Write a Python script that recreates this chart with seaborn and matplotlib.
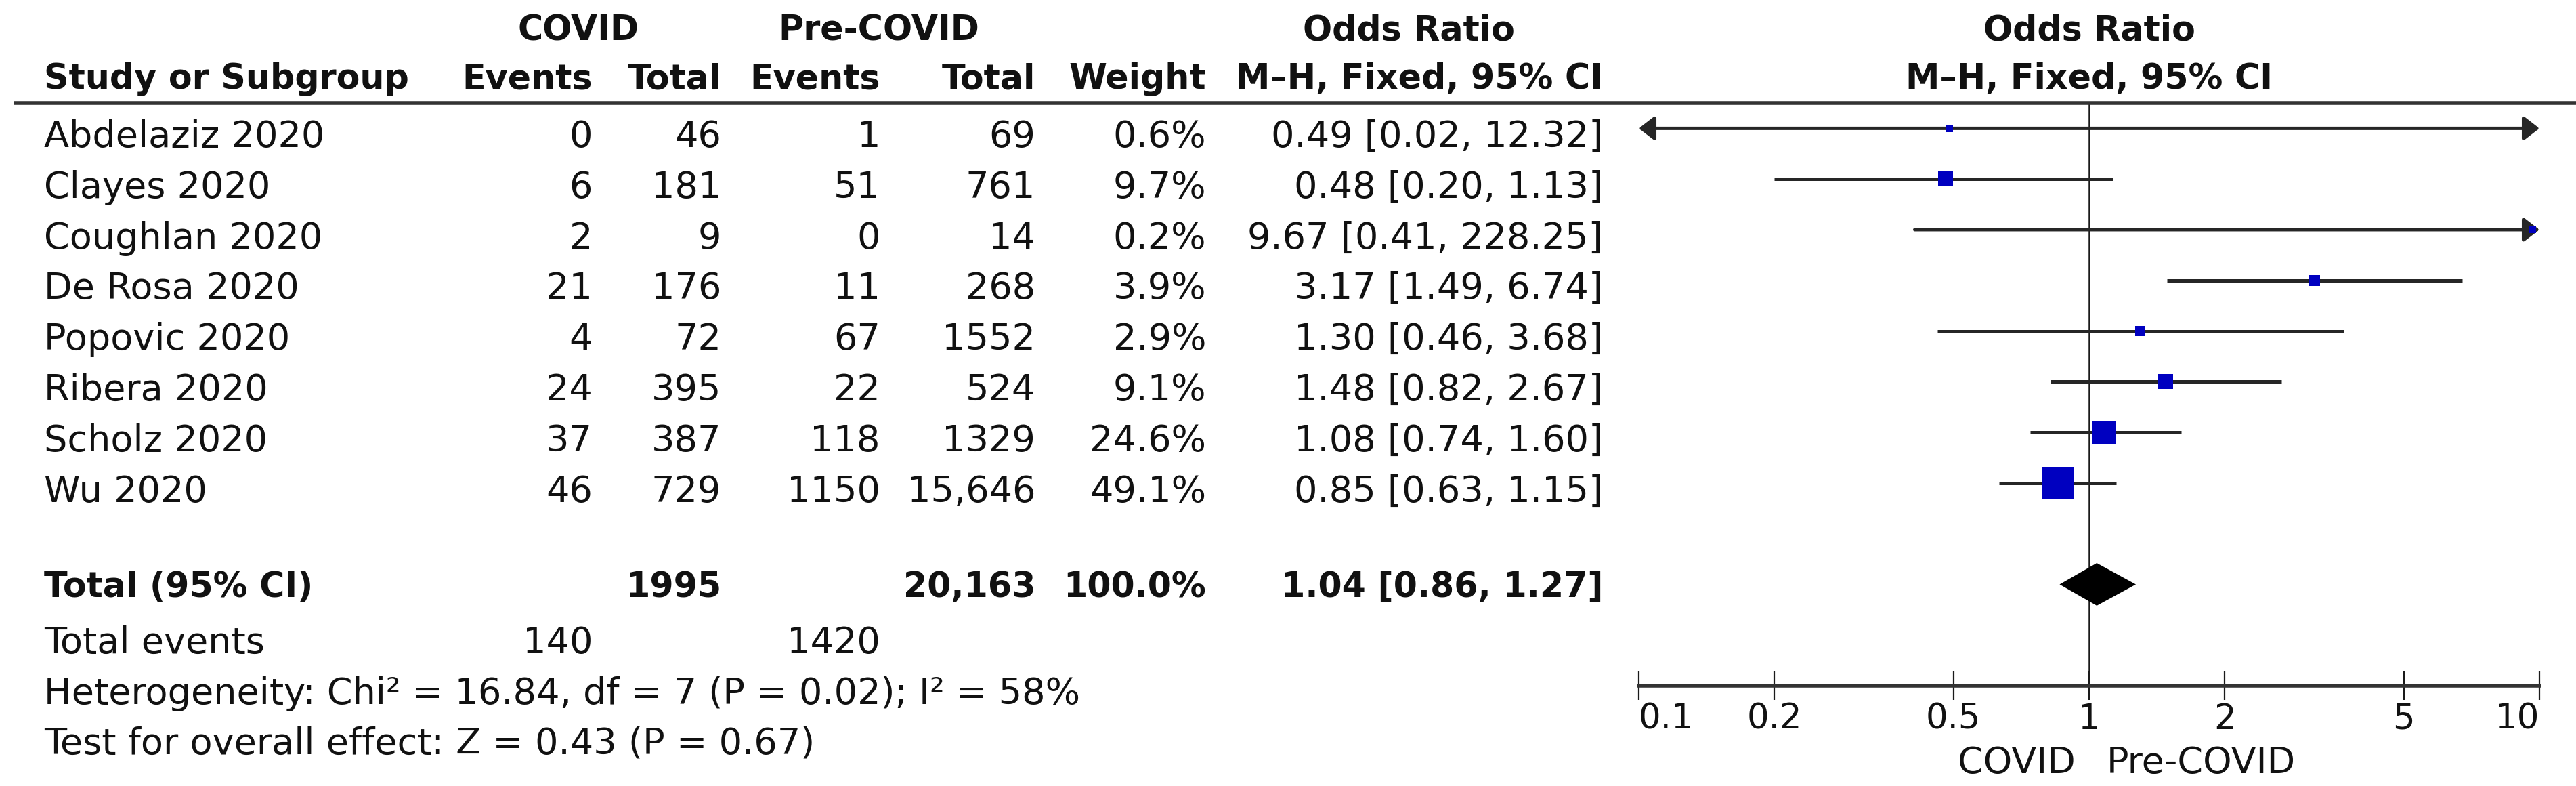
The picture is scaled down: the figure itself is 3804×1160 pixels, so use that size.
import numpy as np
import pandas as pd
import matplotlib
matplotlib.use('Agg')
import matplotlib.pyplot as plt
import matplotlib.transforms as mtransforms
import seaborn as sns

# data
studies = ['Abdelaziz 2020', 'Clayes 2020', 'Coughlan 2020', 'De Rosa 2020',
           'Popovic 2020', 'Ribera 2020', 'Scholz 2020', 'Wu 2020']
covid_events = ['0', '6', '2', '21', '4', '24', '37', '46']
covid_total = ['46', '181', '9', '176', '72', '395', '387', '729']
pre_events = ['1', '51', '0', '11', '67', '22', '118', '1150']
pre_total = ['69', '761', '14', '268', '1552', '524', '1329', '15,646']
weight = [0.6, 9.7, 0.2, 3.9, 2.9, 9.1, 24.6, 49.1]
odds = [0.49, 0.48, 9.67, 3.17, 1.30, 1.48, 1.08, 0.85]
ci_low = [0.02, 0.20, 0.41, 1.49, 0.46, 0.82, 0.74, 0.63]
ci_high = [12.32, 1.13, 228.25, 6.74, 3.68, 2.67, 1.60, 1.15]

total_label = 'Total (95% CI)'
total_covid = '1995'
total_pre = '20,163'
total_weight = 100.0
total_or = 1.04
total_low = 0.86
total_high = 1.27

events_covid = '140'
events_pre = '1420'
het_text = 'Heterogeneity: Chi² = 16.84, df = 7 (P = 0.02); I² = 58%'
effect_text = 'Test for overall effect: Z = 0.43 (P = 0.67)'

xticks = [0.1, 0.2, 0.5, 1, 2, 5, 10]
xtick_labels = ['0.1', '0.2', '0.5', '1', '2', '5', '10']

df = pd.DataFrame({'study': studies, 'weight': weight, 'odds': odds,
                   'low': ci_low, 'high': ci_high})
df['row'] = np.arange(len(df))

sns.set_style('white')
plt.rcParams['font.family'] = ['DejaVu Sans']

W, H = 3804, 1160
FS = 39      # body text
FSB = 36.5   # bold header / total text
fig = plt.figure(figsize=(W / 100, H / 100), dpi=100)
ax = fig.add_axes([2420 / W, (H - 1012) / H, (3750 - 2420) / W, (1012 - 152) / H])
ax.set_xscale('log')
ax.set_xlim(0.1, 10)
ax.set_ylim(11, -0.5)

# confidence intervals (arrows when they leave the scale)
line_col = '#262626'
for _, r in df.iterrows():
    lo = max(r['low'], 0.1)
    hi = min(r['high'], 10)
    if r['low'] < 0.1 and r['high'] > 10:
        style = '<|-|>'
    elif r['high'] > 10:
        style = '-|>'
    elif r['low'] < 0.1:
        style = '<|-'
    else:
        style = None
    if style is None:
        ax.hlines(r['row'], lo, hi, color=line_col, lw=3.6, zorder=2)
    else:
        ax.annotate('', xy=(hi, r['row']), xytext=(lo, r['row']),
                    arrowprops=dict(arrowstyle=style + ',head_length=0.35,head_width=0.27',
                                    color=line_col, lw=3.6, shrinkA=0, shrinkB=0,
                                    mutation_scale=40),
                    zorder=2, annotation_clip=False)

# weighted squares, area ~ weight (small floor so tiny studies stay visible)
k = (47 / 1.389) ** 2 / 49.1
sns.scatterplot(data=df, x='odds', y='row', size='weight',
                sizes=(45, k * max(weight)),
                size_norm=(0, max(weight)),
                marker='s', color='#0000c0', linewidth=0, legend=False,
                ax=ax, zorder=4, clip_on=False)

# pooled diamond
total_row = 9
dh = 0.42
ax.fill([total_low, total_or, total_high, total_or],
        [total_row, total_row - dh, total_row, total_row + dh],
        color='black', zorder=5, lw=0)

ax.axvline(1, color='#1a1a1a', lw=1.8, zorder=1)

sns.despine(ax=ax, left=True)
ax.spines['bottom'].set_linewidth(4)
ax.spines['bottom'].set_color('#333333')
ax.set_yticks([])
ax.set_xticks(xticks)
ax.set_xticklabels(xtick_labels)
ax.minorticks_off()
ax.tick_params(axis='x', direction='inout', length=30, width=1.6, pad=3,
               labelsize=37, color='#1a1a1a', bottom=True, labelcolor='#111111')
labs = ax.get_xticklabels()
labs[0].set_horizontalalignment('left')
labs[-1].set_horizontalalignment('right')
ax.set_xlabel('')
ax.set_ylabel('')

# header rule across the whole figure
trans = mtransforms.blended_transform_factory(fig.transFigure, ax.transData)
ax.plot([20 / W, 1], [-0.5, -0.5], transform=trans, color='#333333', lw=4,
        clip_on=False, solid_capstyle='butt')


def put(xp, y, s, ha='right', bold=False):
    ax.text(xp / W, y, s, transform=trans, ha=ha, va='baseline',
            fontsize=FSB if bold else FS,
            fontweight='bold' if bold else 'normal', clip_on=False, color='#111111')


# column headers
h1, h2 = -1.74, -0.78
put(854, h1, 'COVID', ha='center', bold=True)
put(1298, h1, 'Pre-COVID', ha='center', bold=True)
put(2080, h1, 'Odds Ratio', ha='center', bold=True)
put(65, h2, 'Study or Subgroup', ha='left', bold=True)
put(875, h2, 'Events', bold=True)
put(1065, h2, 'Total', bold=True)
put(1300, h2, 'Events', bold=True)
put(1529, h2, 'Total', bold=True)
put(1781, h2, 'Weight', bold=True)
put(2367, h2, 'M–H, Fixed, 95% CI', bold=True)
ax.text(1, h1, 'Odds Ratio', ha='center', va='baseline', fontsize=FSB,
        fontweight='bold', clip_on=False, color='#111111')
ax.text(1, h2, 'M–H, Fixed, 95% CI', ha='center', va='baseline', fontsize=FSB,
        fontweight='bold', clip_on=False, color='#111111')

# study rows
for i in range(len(studies)):
    y = i + 0.37
    put(65, y, studies[i], ha='left')
    put(875, y, covid_events[i])
    put(1065, y, covid_total[i])
    put(1300, y, pre_events[i])
    put(1529, y, pre_total[i])
    put(1781, y, f'{weight[i]:.1f}%')
    put(2367, y, f'{odds[i]:.2f} [{ci_low[i]:.2f}, {ci_high[i]:.2f}]')

# totals and footer
yt = total_row + 0.25
put(65, yt, total_label, ha='left', bold=True)
put(1065, yt, total_covid, bold=True)
put(1529, yt, total_pre, bold=True)
put(1781, yt, f'{total_weight:.1f}%', bold=True)
put(2367, yt, f'{total_or:.2f} [{total_low:.2f}, {total_high:.2f}]', bold=True)

put(65, 10.36, 'Total events', ha='left')
put(875, 10.36, events_covid)
put(1300, 10.36, events_pre)
put(65, 11.36, het_text, ha='left')
put(65, 12.34, effect_text, ha='left')

# favours labels under the axis
off_l = mtransforms.offset_copy(ax.transData, fig=fig, x=-20 / 100, units='inches')
off_r = mtransforms.offset_copy(ax.transData, fig=fig, x=26 / 100, units='inches')
ax.text(1, 12.73, 'COVID', transform=off_l, ha='right', va='baseline',
        fontsize=FS, clip_on=False, color='#111111')
ax.text(1, 12.73, 'Pre-COVID', transform=off_r, ha='left', va='baseline',
        fontsize=FS, clip_on=False, color='#111111')

fig.savefig('out.png', dpi=100, facecolor='white')
